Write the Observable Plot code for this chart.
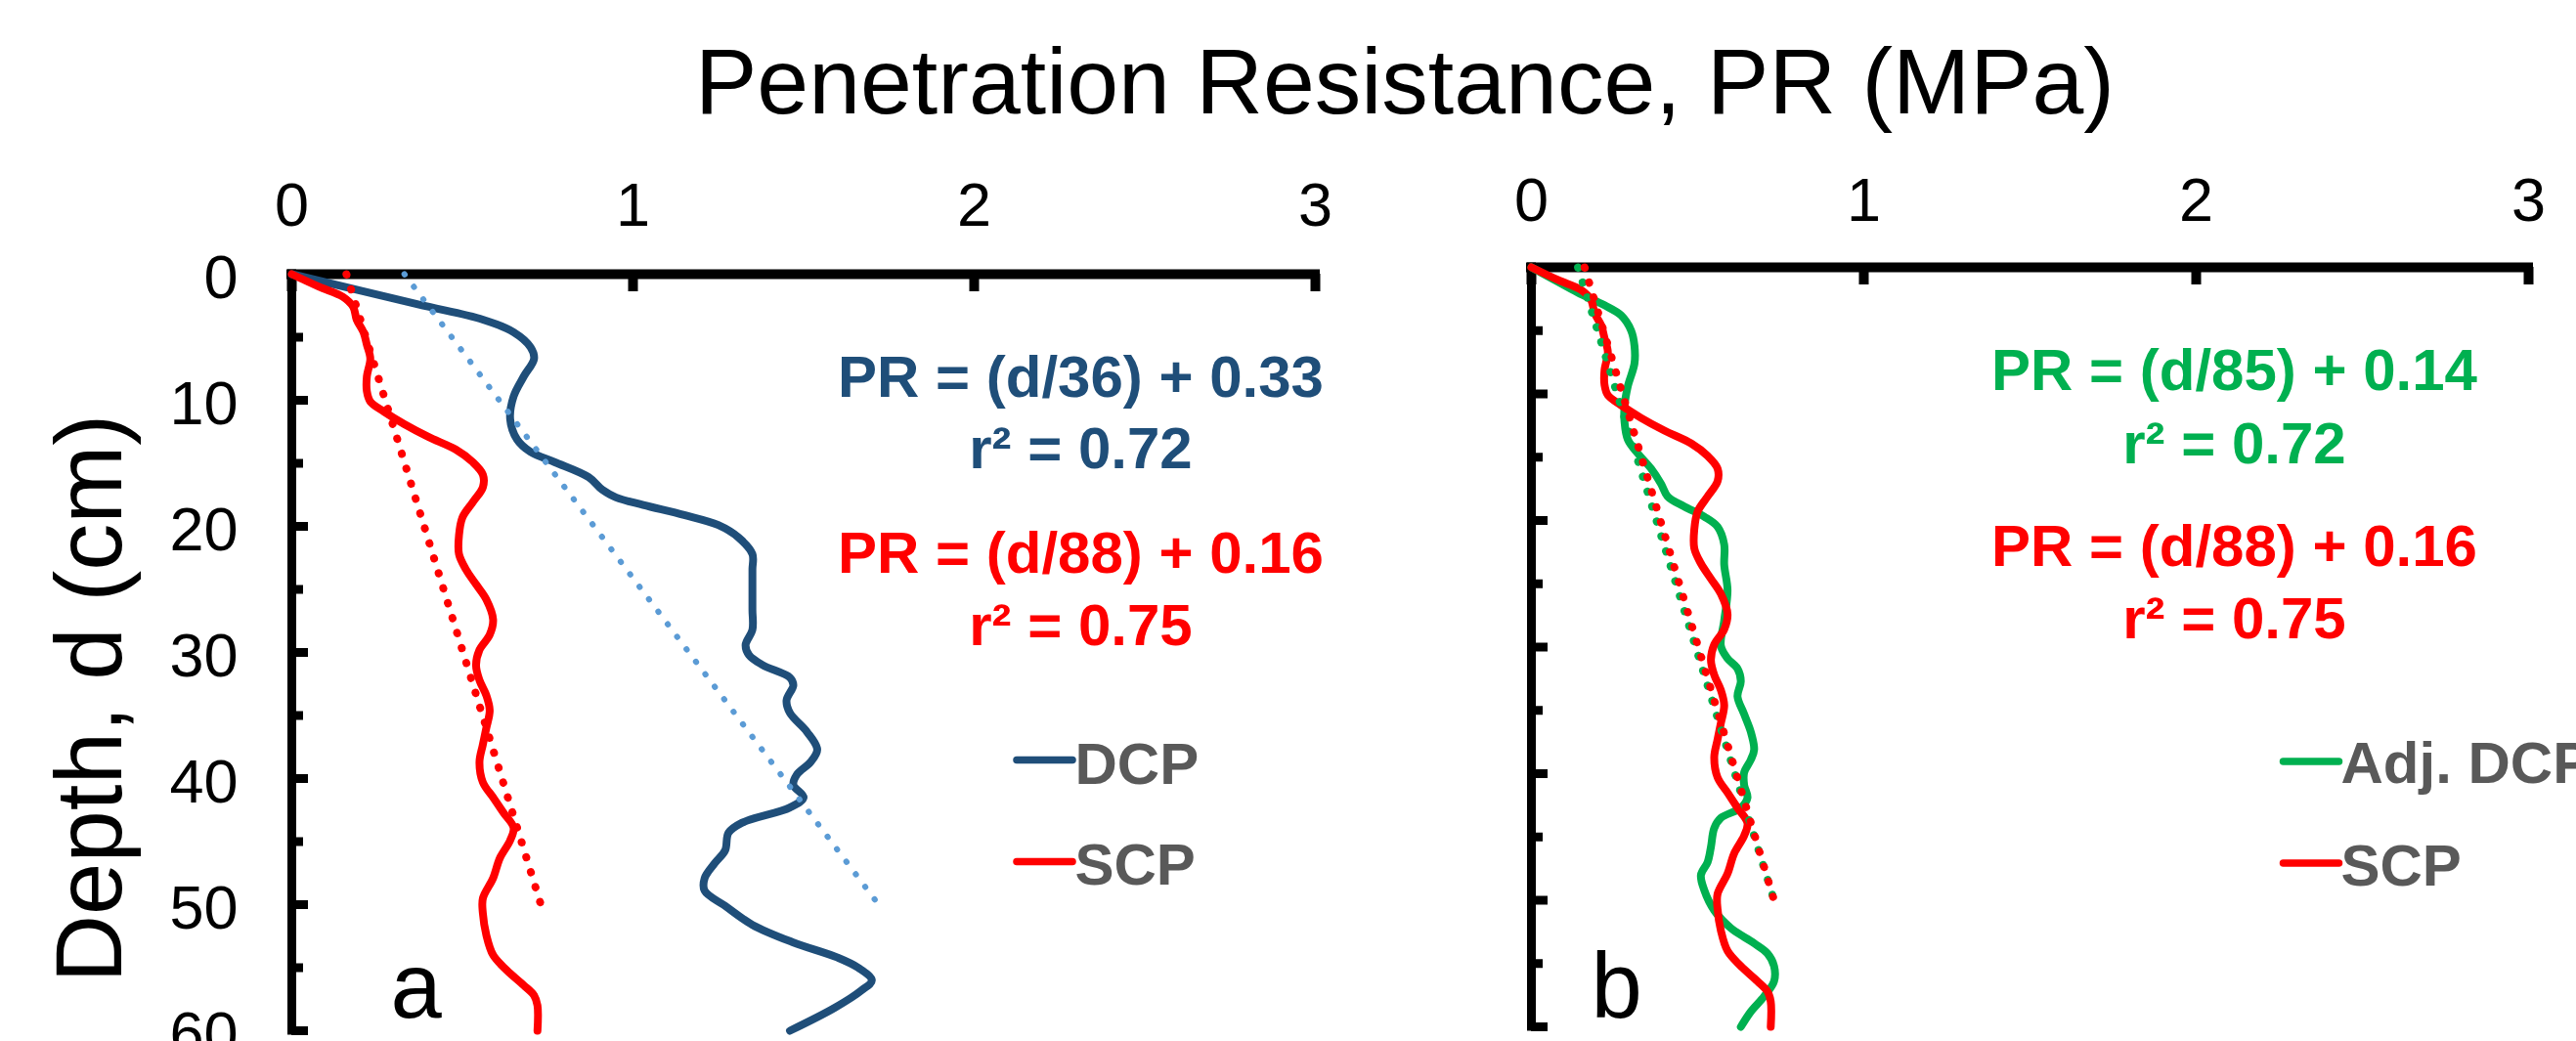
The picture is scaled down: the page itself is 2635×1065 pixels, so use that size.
<!DOCTYPE html>
<html>
<head>
<meta charset="utf-8">
<script src="https://cdn.jsdelivr.net/npm/d3@7"></script>
<script src="https://cdn.jsdelivr.net/npm/@observablehq/plot@0.6"></script>
<style>
  html, body { margin: 0; padding: 0; background: #fff; overflow: hidden; }
  #wrap { position: relative; width: 2635px; height: 1065px; overflow: hidden; background: #fff;
          font-family: 'Liberation Sans', Arial, Helvetica, sans-serif; }
  #title { position: absolute; left: 1437px; top: 29px; transform: translateX(-50%); white-space: nowrap;
           font-size: 95px; line-height: normal; color: #000; }
  .panel { position: absolute; top: 0; }
  .panel svg { max-width: none !important; display: block; }
</style>
</head>
<body>
<div id="wrap">
  <div id="title"></div>
  <div id="panelA" class="panel" style="left:0px; width:1380px;"></div>
  <div id="panelB" class="panel" style="left:1400px; width:1300px;"></div>
</div>
<script>
// ---------------- data ----------------
const titleText = "Penetration Resistance, PR (MPa)";
const yAxisLabel = "Depth, d (cm)";
const xTickValues = [0, 1, 2, 3];
const depthLabels = [0, 10, 20, 30, 40, 50, 60];
const depthMinorTicks = [5, 15, 25, 35, 45, 55];

// DCP (panel a)
const depthDCP = [0, 2.4, 3.6, 4.6, 5.8, 6.7, 8.1, 9.7, 11.5, 13.1,
  14.1, 14.9, 16.1, 17.1, 17.7, 18.3, 19.1, 19.9, 20.9, 22.2,
  23.4, 25.0, 26.6, 28.2, 29.4, 30.2, 31.0, 32.0, 32.6, 33.8,
  34.8, 36.3, 37.7, 38.7, 39.7, 40.5, 41.5, 42.3, 43.5, 44.3,
  45.7, 46.7, 47.9, 48.9, 50.1, 51.6, 53.0, 54.2, 55.0, 56.0,
  56.8, 58.2, 60.0];
const prDCP = [0, 0.37, 0.56, 0.65, 0.70, 0.71, 0.68, 0.65, 0.64, 0.66,
  0.70, 0.77, 0.87, 0.91, 0.95, 1.03, 1.15, 1.25, 1.31, 1.35,
  1.35, 1.35, 1.35, 1.35, 1.33, 1.34, 1.38, 1.46, 1.47, 1.45,
  1.46, 1.51, 1.54, 1.52, 1.48, 1.47, 1.50, 1.46, 1.32, 1.28,
  1.27, 1.24, 1.21, 1.21, 1.27, 1.35, 1.47, 1.60, 1.66, 1.70,
  1.67, 1.59, 1.46];

// SCP (both panels)
const depthSCP = [0, 1.0, 1.8, 2.6, 3.6, 4.6, 5.6, 6.7, 8.1, 9.3,
  10.1, 10.9, 11.9, 12.9, 13.9, 14.9, 15.9, 16.9, 18.1, 19.3,
  20.7, 22.2, 23.4, 24.6, 25.8, 27.4, 28.6, 29.8, 31.0, 32.2,
  33.4, 34.6, 36.0, 37.3, 38.7, 40.3, 41.5, 42.7, 43.9, 44.9,
  46.3, 47.9, 49.5, 50.7, 52.4, 54.0, 55.2, 56.4, 57.2, 58.0,
  60.0];
const prSCP = [0, 0.08, 0.15, 0.18, 0.19, 0.21, 0.22, 0.23, 0.22, 0.22,
  0.23, 0.27, 0.33, 0.40, 0.48, 0.53, 0.56, 0.56, 0.53, 0.50,
  0.49, 0.49, 0.51, 0.54, 0.57, 0.59, 0.58, 0.55, 0.54, 0.55,
  0.57, 0.58, 0.57, 0.56, 0.55, 0.56, 0.59, 0.62, 0.65, 0.64,
  0.61, 0.59, 0.56, 0.56, 0.57, 0.59, 0.63, 0.68, 0.71, 0.72,
  0.72];

// Adjusted DCP (panel b)
const depthAdj = [0, 1.0, 2.0, 3.0, 3.8, 5.0, 6.2, 7.6, 9.4, 11.0,
  12.2, 13.6, 14.7, 15.9, 17.1, 18.1, 18.9, 19.7, 20.5, 21.9,
  23.5, 25.5, 27.9, 29.9, 30.9, 31.7, 32.7, 33.9, 35.3, 36.7,
  38.1, 38.9, 39.9, 40.9, 41.9, 42.7, 43.5, 44.3, 45.8, 47.0,
  48.0, 49.2, 50.8, 52.2, 53.4, 54.2, 55.2, 56.4, 57.6, 58.8,
  60.0];
const prAdj = [0, 0.07, 0.14, 0.22, 0.27, 0.30, 0.31, 0.31, 0.29, 0.28,
  0.28, 0.29, 0.32, 0.36, 0.39, 0.41, 0.46, 0.52, 0.56, 0.58,
  0.58, 0.59, 0.58, 0.57, 0.59, 0.62, 0.63, 0.62, 0.64, 0.66,
  0.67, 0.66, 0.64, 0.64, 0.65, 0.63, 0.57, 0.55, 0.54, 0.53,
  0.51, 0.52, 0.55, 0.60, 0.67, 0.71, 0.73, 0.73, 0.70, 0.66,
  0.63];

// linear trend lines (end points)
const trendDepth = [0, 50];
const trendDCP = [0.33, 1.72];
const trendSCP = [0.16, 0.73];
const trendAdj = [0.14, 0.73];

const eqLinesA = ["PR = (d/36) + 0.33", "r² = 0.72", "PR = (d/88) + 0.16", "r² = 0.75"];
const eqLinesB = ["PR = (d/85) + 0.14", "r² = 0.72", "PR = (d/88) + 0.16", "r² = 0.75"];
const legendA = ["DCP", "SCP"];
const legendB = ["Adj. DCP", "SCP"];
const panelLetters = ["a", "b"];

// ---------------- styles ----------------
const FONT = "'Liberation Sans', Arial, Helvetica, sans-serif";
const C_DCP = "#1F4E79", C_TREND_DCP = "#5B9BD5", C_SCP = "#FF0000", C_ADJ = "#00B050", C_LEG = "#595959";

document.getElementById("title").textContent = titleText;

const swatch = {draw(ctx) { ctx.moveTo(-28.5, 0); ctx.lineTo(28.5, 0); }};

function axisMarks(fw, fh) {
  return [
    Plot.ruleY([0], {stroke: "black", strokeWidth: 10, strokeLinecap: "square"}),
    Plot.ruleX([0], {stroke: "black", strokeWidth: 9, strokeLinecap: "square"}),
    Plot.ruleX(xTickValues, {stroke: "black", strokeWidth: 10, insetBottom: fh - 18}),
    Plot.ruleY(depthMinorTicks, {stroke: "black", strokeWidth: 9, insetRight: fw - 12}),
    Plot.ruleY(depthLabels, {stroke: "black", strokeWidth: 9, insetRight: fw - 17})
  ];
}

function eqText(lines, colors, dx, dys) {
  return lines.map((t, i) => Plot.text([t], {
    frameAnchor: "top-left", textAnchor: "middle", lineAnchor: "bottom",
    dx, dy: dys[i], fontSize: 60, fontWeight: "bold", fill: colors[i], fontFamily: FONT
  }));
}

function legendMarks(labels, colors, sx, sys, tx, tys) {
  const out = [];
  labels.forEach((lab, i) => {
    out.push(Plot.dot([lab], {frameAnchor: "top-left", dx: sx, dy: sys[i], symbol: swatch,
      fill: "none", stroke: colors[i], strokeWidth: 7.5, strokeLinecap: "round"}));
    out.push(Plot.text([lab], {frameAnchor: "top-left", textAnchor: "start", lineAnchor: "bottom",
      dx: tx, dy: tys[i], fontSize: 60, fontWeight: "bold", fill: C_LEG, fontFamily: FONT}));
  });
  return out;
}

const lineOpts = {strokeWidth: 8, curve: "catmull-rom", strokeLinejoin: "round", strokeLinecap: "round"};
const dotted = {strokeWidth: 8, strokeDasharray: "0.5 15.5", strokeLinecap: "round"};

// ---------------- panel a ----------------
{
  const W = 1380, H = 1100, ml = 298, mr = W - 1345, mt = 280, mb = H - 1054;
  const fw = W - ml - mr, fh = H - mt - mb;
  const chart = Plot.plot({
    width: W, height: H, marginLeft: ml, marginRight: mr, marginTop: mt, marginBottom: mb,
    style: {fontFamily: FONT, background: "none", overflow: "visible"},
    x: {domain: [0, 3], axis: null},
    y: {domain: [0, 60], reverse: true, axis: null},
    marks: [
      ...axisMarks(fw, fh),
      Plot.text(xTickValues, {x: d => d, text: d => String(d), frameAnchor: "top", lineAnchor: "bottom",
        dy: -50, fontSize: 63, fill: "black", fontFamily: FONT}),
      Plot.text(depthLabels, {y: d => d, text: d => String(d), frameAnchor: "left", textAnchor: "end",
        dx: -55, dy: 4, fontSize: 63, fill: "black", fontFamily: FONT}),
      Plot.text([yAxisLabel], {frameAnchor: "left", rotate: -90, textAnchor: "middle", lineAnchor: "bottom",
        dx: -175, dy: 47, fontSize: 96, fill: "black", fontFamily: FONT}),
      Plot.line(prDCP, {x: prDCP, y: depthDCP, stroke: C_DCP, ...lineOpts}),
      Plot.line(prSCP, {x: prSCP, y: depthSCP, stroke: C_SCP, ...lineOpts}),
      Plot.line(trendDCP, {x: trendDCP, y: trendDepth, stroke: C_TREND_DCP, ...dotted, strokeWidth: 6}),
      Plot.line(trendSCP, {x: trendSCP, y: trendDepth, stroke: C_SCP, ...dotted}),
      ...eqText(eqLinesA, [C_DCP, C_DCP, C_SCP, C_SCP], 807, [125, 198, 305, 379]),
      ...legendMarks(legendA, [C_DCP, C_SCP], 770, [497, 601], 801, [521, 624]),
      Plot.text([panelLetters[0]], {frameAnchor: "top-left", textAnchor: "start", lineAnchor: "bottom",
        dx: 101, dy: 760, fontSize: 94, fill: "black", fontFamily: FONT})
    ]
  });
  document.getElementById("panelA").appendChild(chart);
}

// ---------------- panel b ----------------
{
  const left = 1400;
  const W = 1300, H = 1100, ml = 1566 - left, mr = W - (2586 - left), mt = 273, mb = H - 1050;
  const fw = W - ml - mr, fh = H - mt - mb;
  const chart = Plot.plot({
    width: W, height: H, marginLeft: ml, marginRight: mr, marginTop: mt, marginBottom: mb,
    style: {fontFamily: FONT, background: "none", overflow: "visible"},
    x: {domain: [0, 3], axis: null},
    y: {domain: [0, 60], reverse: true, axis: null},
    marks: [
      ...axisMarks(fw, fh),
      Plot.text(xTickValues, {x: d => d, text: d => String(d), frameAnchor: "top", lineAnchor: "bottom",
        dy: -48, fontSize: 63, fill: "black", fontFamily: FONT}),
      Plot.line(prAdj, {x: prAdj, y: depthAdj, stroke: C_ADJ, ...lineOpts}),
      Plot.line(prSCP, {x: prSCP, y: depthSCP, stroke: C_SCP, ...lineOpts}),
      Plot.line(trendAdj, {x: trendAdj, y: trendDepth, stroke: C_ADJ, ...dotted}),
      Plot.line(trendSCP, {x: trendSCP, y: trendDepth, stroke: C_SCP, ...dotted}),
      ...eqText(eqLinesB, [C_ADJ, C_ADJ, C_SCP, C_SCP], 719, [125, 200, 305, 379]),
      ...legendMarks(legendB, [C_ADJ, C_SCP], 797.5, [505.6, 609.6], 828, [527, 632]),
      Plot.text([panelLetters[1]], {frameAnchor: "top-left", textAnchor: "start", lineAnchor: "bottom",
        dx: 61, dy: 767, fontSize: 94, fill: "black", fontFamily: FONT})
    ]
  });
  document.getElementById("panelB").appendChild(chart);
}
</script>
</body>
</html>
